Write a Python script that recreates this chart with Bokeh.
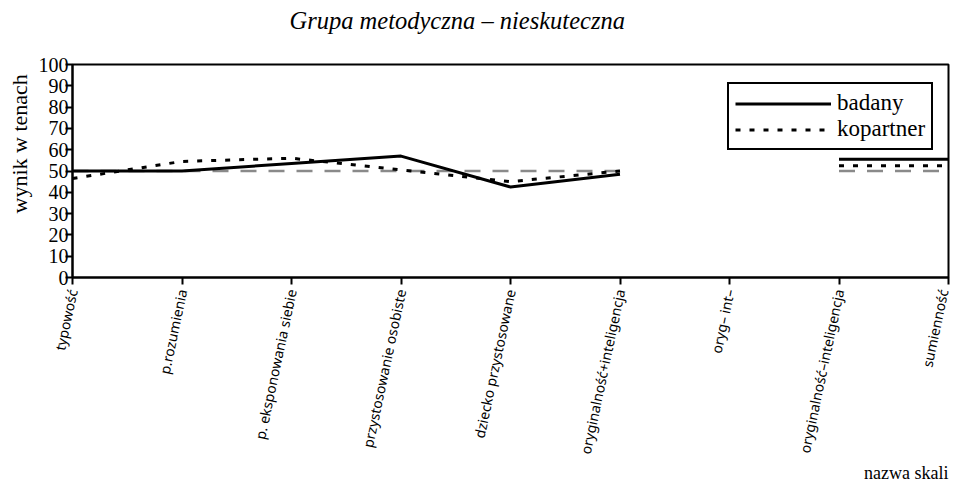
import math
from bokeh.plotting import figure
from bokeh.models import Range1d, FixedTicker, Legend, LegendItem, Title
from bokeh.embed import file_html
from bokeh.resources import INLINE

categories = ["typowość", "p.rozumienia", "p. eksponowania siebie", "przystosowanie osobiste",
              "dziecko przystosowane", "oryginalność+inteligencja", "oryg– int–",
              "oryginalność–inteligencja", "sumienność"]
badany = [50, 50, 53.5, 57, 42.5, 48.5, float("nan"), 55.5, 55.5]
kopartner = [46.5, 54.5, 56, 50.5, 45, 50, float("nan"), 52.5, 52.5]
norma = [50, 50, 50, 50, 50, 50, float("nan"), 50, 50]
y_ticks = [0, 10, 20, 30, 40, 50, 60, 70, 80, 90, 100]

xs = list(range(len(categories)))
SERIF = "Liberation Serif"

W, H = 952, 484
p = figure(width=W, height=H, output_backend="svg", toolbar_location=None,
           x_range=Range1d(0, len(categories) - 1), y_range=Range1d(0, 100),
           min_border_left=72, min_border_right=4, min_border_top=64, min_border_bottom=207)
p.xgrid.visible = False
p.ygrid.visible = False
p.outline_line_color = "black"
p.outline_line_width = 2
p.outline_line_alpha = 1
p.background_fill_color = "white"
p.border_fill_color = "white"

p.yaxis.ticker = FixedTicker(ticks=y_ticks)
p.yaxis.major_label_text_font = SERIF
p.yaxis.major_label_text_font_size = "20px"
p.yaxis.major_label_text_color = "black"
p.yaxis.axis_line_width = 2
p.yaxis.axis_line_color = "black"
p.yaxis.major_tick_out = 7
p.yaxis.major_tick_in = 0
p.yaxis.major_tick_line_width = 2
p.yaxis.minor_tick_line_color = None
p.yaxis.major_label_standoff = -3

p.xaxis.ticker = FixedTicker(ticks=xs)
p.xaxis.major_label_overrides = {i: c for i, c in enumerate(categories)}
p.xaxis.major_label_orientation = math.radians(78)
p.xaxis.major_label_text_font = "Noto Sans"
p.xaxis.major_label_text_font_size = "14px"
p.xaxis.major_label_text_color = "black"
p.xaxis.axis_line_width = 2
p.xaxis.axis_line_color = "black"
p.xaxis.major_tick_out = 7
p.xaxis.major_tick_in = 0
p.xaxis.major_tick_line_width = 2
p.xaxis.minor_tick_line_color = None
p.xaxis.major_label_standoff = 5

p.line(xs, norma, line_color="#8a8a8a", line_width=2.5, line_dash="16 12")
r1 = p.line(xs, badany, line_color="black", line_width=3)
r2 = p.line(xs, kopartner, line_color="black", line_width=3, line_dash="5 9")

legend = Legend(items=[LegendItem(label="badany", renderers=[r1]),
                       LegendItem(label="kopartner", renderers=[r2])],
                location=(655, 127))
legend.label_text_font = SERIF
legend.label_text_font_size = "23px"
legend.label_text_color = "black"
legend.border_line_color = "black"
legend.border_line_width = 2
legend.border_line_alpha = 1
legend.glyph_width = 96
legend.glyph_height = 23
legend.label_height = 23
legend.label_standoff = 6
legend.spacing = 0
legend.padding = 6
legend.margin = 0
legend.background_fill_alpha = 1
p.add_layout(legend, "center")

title = Title(text="Grupa metodyczna – nieskuteczna\n", align="left", offset=217, standoff=8,
              text_font=SERIF, text_font_style="italic", text_font_size="24.5px",
              text_color="black")
p.add_layout(title, "above")

ylab = Title(text="wynik w tenach", align="left", offset=64, standoff=8,
             text_font=SERIF, text_font_style="normal", text_font_size="22px",
             text_color="black")
p.add_layout(ylab, "left")

xlab = Title(text="nazwa skali", align="right", standoff=0,
             text_font=SERIF, text_font_style="normal", text_font_size="18px",
             text_color="black")
p.add_layout(xlab, "below")

open("out.html", "w").write(file_html(p, INLINE))
